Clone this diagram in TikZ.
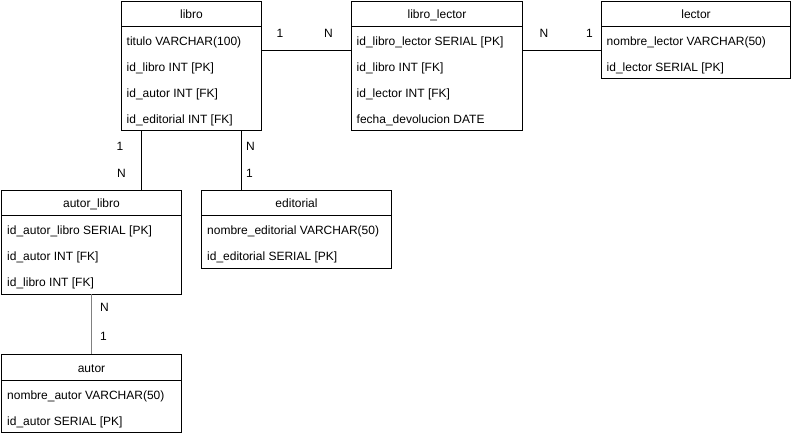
\documentclass[tikz,border=0pt]{standalone}
\usepackage{fontspec}
\setmainfont{Liberation Sans}
\newcommand{\fsz}{\fontsize{12}{14}\selectfont}
\begin{document}
\begin{tikzpicture}[x=1pt,y=-1pt,
  tbl/.style={draw, line width=1pt, anchor=north west, inner sep=0pt, outer sep=0pt},
  hdr/.style={font=\fsz, anchor=base, inner sep=0pt},
  rowtxt/.style={font=\fsz, anchor=base west, inner sep=0pt},
  card/.style={font=\fsz, inner sep=0pt},
  rel/.style={line width=1pt},
  relgray/.style={line width=1pt, draw={rgb,255:red,128;green,128;blue,128}}]
\fill[white] (0,0) rectangle (792,436);
\useasboundingbox (0,0) rectangle (792,436);

% libro
\node[tbl, minimum width=140pt, minimum height=129pt] (libro) at (121.5,1.5) {};
\draw[line width=1pt] ([yshift=-25pt]libro.north west) -- ([yshift=-25pt]libro.north east);
\node[hdr] (libroT) at ([yshift=-17pt]libro.north) {libro};
\foreach \t [count=\i from 0] in {titulo VARCHAR(100), id\_libro INT [PK], id\_autor INT [FK], id\_editorial INT [FK]}
  \node[rowtxt] (libroR\i) at ([xshift=5pt,yshift={-44pt-26pt*\i}]libro.north west) {\t};

% libro_lector
\node[tbl, minimum width=171pt, minimum height=129pt] (librolector) at (351.5,1.5) {};
\draw[line width=1pt] ([yshift=-25pt]librolector.north west) -- ([yshift=-25pt]librolector.north east);
\node[hdr] (librolectorT) at ([yshift=-17pt]librolector.north) {libro\_lector};
\foreach \t [count=\i from 0] in {id\_libro\_lector SERIAL [PK], id\_libro INT [FK], id\_lector INT [FK], fecha\_devolucion DATE}
  \node[rowtxt] (librolectorR\i) at ([xshift=5pt,yshift={-44pt-26pt*\i}]librolector.north west) {\t};

% lector
\node[tbl, minimum width=189pt, minimum height=77pt] (lector) at (601.5,1.5) {};
\draw[line width=1pt] ([yshift=-25pt]lector.north west) -- ([yshift=-25pt]lector.north east);
\node[hdr] (lectorT) at ([yshift=-17pt]lector.north) {lector};
\foreach \t [count=\i from 0] in {nombre\_lector VARCHAR(50), id\_lector SERIAL [PK]}
  \node[rowtxt] (lectorR\i) at ([xshift=5pt,yshift={-44pt-26pt*\i}]lector.north west) {\t};

% autor_libro
\node[tbl, minimum width=180pt, minimum height=103.5pt] (autorlibro) at (1.5,190.5) {};
\draw[line width=1pt] ([yshift=-25pt]autorlibro.north west) -- ([yshift=-25pt]autorlibro.north east);
\node[hdr] (autorlibroT) at ([yshift=-17pt]autorlibro.north) {autor\_libro};
\foreach \t [count=\i from 0] in {id\_autor\_libro SERIAL [PK], id\_autor INT [FK], id\_libro INT [FK]}
  \node[rowtxt] (autorlibroR\i) at ([xshift=5.5pt,yshift={-44pt-26pt*\i}]autorlibro.north west) {\t};

% editorial
\node[tbl, minimum width=190pt, minimum height=77.5pt] (editorial) at (201.5,190.5) {};
\draw[line width=1pt] ([yshift=-25pt]editorial.north west) -- ([yshift=-25pt]editorial.north east);
\node[hdr] (editorialT) at ([yshift=-17pt]editorial.north) {editorial};
\foreach \t [count=\i from 0] in {nombre\_editorial VARCHAR(50), id\_editorial SERIAL [PK]}
  \node[rowtxt] (editorialR\i) at ([xshift=5.5pt,yshift={-44pt-26pt*\i}]editorial.north west) {\t};

% autor
\node[tbl, minimum width=180pt, minimum height=78pt] (autor) at (1.5,354) {};
\draw[line width=1pt] ([yshift=-26pt]autor.north west) -- ([yshift=-26pt]autor.north east);
\node[hdr] (autorT) at ([yshift=-18pt]autor.north) {autor};
\foreach \t [count=\i from 0] in {nombre\_autor VARCHAR(50), id\_autor SERIAL [PK]}
  \node[rowtxt] (autorR\i) at ([xshift=5.5pt,yshift={-45pt-26pt*\i}]autor.north west) {\t};

% connectors
\coordinate (c1) at ([yshift=-49.5pt]libro.north east);
\draw[rel] (c1) -- (c1 -| librolector.west);
\coordinate (c2) at ([yshift=-49.5pt]librolector.north east);
\draw[rel] (c2) -- (c2 -| lector.west);
\coordinate (c3) at ([xshift=20pt]libro.south west);
\draw[rel] (c3) -- (c3 |- autorlibro.north);
\coordinate (c4) at ([xshift=120pt]libro.south west);
\draw[rel] (c4) -- (c4 |- editorial.north);
\draw[relgray] ([xshift=-0.5pt]autorlibro.south) -- ([xshift=-0.5pt]autor.north);

% cardinalities
\node[card] (k1) at (280,33) {1};
\node[card] (k2) at (328.5,33) {N};
\node[card] (k3) at (544,33) {N};
\node[card] (k4) at (589.5,33) {1};
\node[card] (k5) at (120,146.5) {1};
\node[card] (k6) at (121.5,173.5) {N};
\node[card] (k7) at (250.5,146.5) {N};
\node[card] (k8) at (249.5,173.5) {1};
\node[card] (k9) at (104.5,307.5) {N};
\node[card] (k10) at (103.5,336) {1};
\end{tikzpicture}
\end{document}
